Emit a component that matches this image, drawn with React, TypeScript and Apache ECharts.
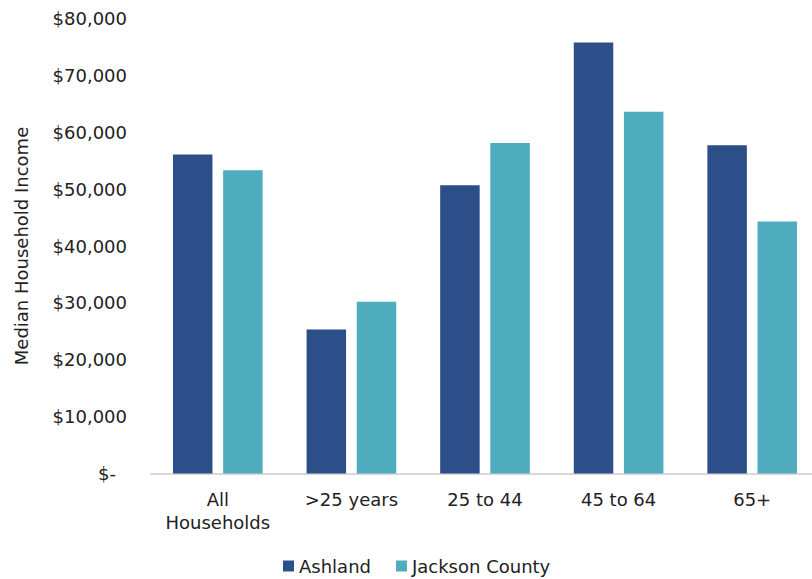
import React, { useEffect, useRef } from "react";
import * as echarts from "echarts";

const categories = ["All\nHouseholds", ">25 years", "25 to 44", "45 to 64", "65+"];
const ashland = [56100, 25300, 50700, 75800, 57700];
const jackson = [53300, 30200, 58100, 63600, 44300];
const seriesNames = ["Ashland", "Jackson County"];
const yTitle = "Median Household Income";

const FONT = "DejaVu Sans";
const TEXT = "#222222";

export default function App() {
  const ref = useRef<HTMLDivElement>(null);
  useEffect(() => {
    document.body.style.margin = "0";
    document.body.style.overflow = "hidden";
    const chart = echarts.init(ref.current!, null, { renderer: "svg" });
    chart.setOption({
      animation: false,
      textStyle: { fontFamily: FONT },
      grid: { left: 151, top: 18.5, right: 1, bottom: 105.5, containLabel: false },
      legend: {
        data: seriesNames,
        left: 278,
        top: 552,
        icon: "rect",
        itemWidth: 11,
        itemHeight: 11,
        itemGap: 25,
        textStyle: { fontFamily: FONT, fontSize: 18, color: TEXT },
      },
      xAxis: {
        type: "category",
        data: categories,
        axisTick: { show: false },
        axisLine: { lineStyle: { color: "#d9d9d9", width: 2 } },
        axisLabel: {
          fontFamily: FONT,
          fontSize: 18,
          color: TEXT,
          lineHeight: 23,
          margin: 14,
          interval: 0,
        },
      },
      yAxis: {
        type: "value",
        min: 0,
        max: 80000,
        interval: 10000,
        name: yTitle,
        nameLocation: "middle",
        nameRotate: 90,
        nameGap: 121,
        nameTextStyle: { fontFamily: FONT, fontSize: 18, color: TEXT },
        splitLine: { show: false },
        axisLine: { show: false },
        axisTick: { show: false },
        axisLabel: {
          fontFamily: FONT,
          fontSize: 18,
          color: TEXT,
          margin: 24,
          formatter: (v: number) =>
            v === 0 ? "{z|$-}" : "$" + v.toLocaleString("en-US"),
          rich: {
            z: { fontFamily: FONT, fontSize: 18, color: TEXT, padding: [0, 11, 0, 0] },
          },
        },
      },
      series: [
        {
          name: seriesNames[0],
          type: "bar",
          data: ashland,
          barWidth: 39.5,
          barGap: "27%",
          itemStyle: { color: "#2C4F8A" },
        },
        {
          name: seriesNames[1],
          type: "bar",
          data: jackson,
          barWidth: 39.5,
          itemStyle: { color: "#4FABBE" },
        },
      ],
    });
    return () => chart.dispose();
  }, []);
  return (
    <div style={{ position: "absolute", left: 0, top: 0, width: 812, height: 579, overflow: "hidden" }}>
      <div ref={ref} style={{ width: 820, height: 579 }} />
    </div>
  );
}
